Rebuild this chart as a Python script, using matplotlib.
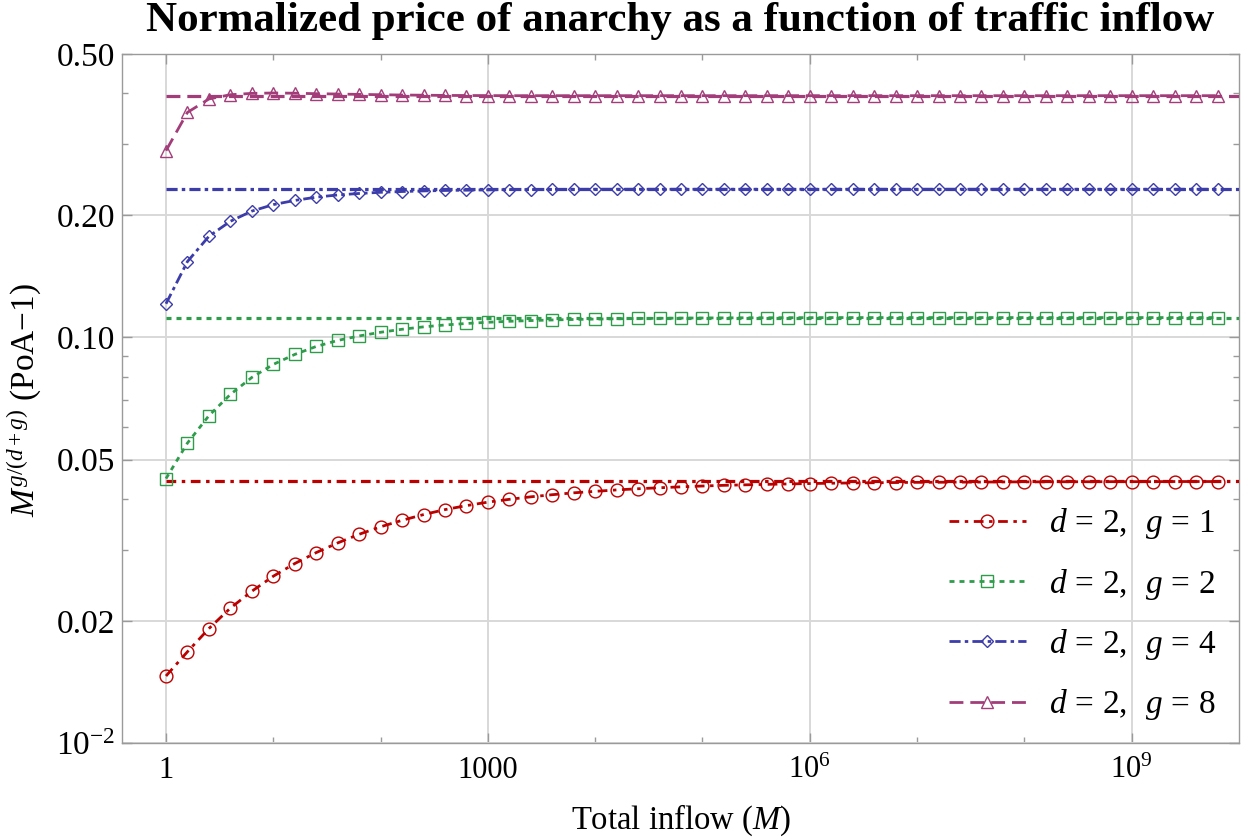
import matplotlib
matplotlib.use("Agg")
import matplotlib.pyplot as plt
from matplotlib.ticker import FixedLocator, FixedFormatter, NullFormatter

plt.rcParams.update({
    "font.family": ["Liberation Serif", "DejaVu Serif"],
    "mathtext.fontset": "custom",
    "mathtext.rm": "Liberation Serif",
    "mathtext.it": "Liberation Serif:italic",
    "mathtext.bf": "Liberation Serif:bold",
    "lines.scale_dashes": False,
    "axes.unicode_minus": True,
})

# ---------------- data ----------------
log10_inflow = [0.0, 0.2, 0.4, 0.6, 0.8, 1.0, 1.2, 1.4, 1.6, 1.8,
                2.0, 2.2, 2.4, 2.6, 2.8, 3.0, 3.2, 3.4, 3.6, 3.8,
                4.0, 4.2, 4.4, 4.6, 4.8, 5.0, 5.2, 5.4, 5.6, 5.8,
                6.0, 6.2, 6.4, 6.6, 6.8, 7.0, 7.2, 7.4, 7.6, 7.8,
                8.0, 8.2, 8.4, 8.6, 8.8, 9.0, 9.2, 9.4, 9.6, 9.8]
inflow = [10 ** e for e in log10_inflow]

g1 = [0.01463, 0.01679, 0.01915, 0.02151, 0.02367, 0.02578, 0.02770, 0.02948, 0.03114, 0.03271,
      0.03413, 0.03541, 0.03658, 0.03763, 0.03849, 0.03926, 0.03989, 0.04046, 0.04095, 0.04139,
      0.04174, 0.04208, 0.04236, 0.04260, 0.04282, 0.04302, 0.04319, 0.04331, 0.04343, 0.04353,
      0.04363, 0.04371, 0.04378, 0.04383, 0.04388, 0.04393, 0.04395, 0.04398, 0.04400, 0.04403,
      0.04405, 0.04405, 0.04408, 0.04408, 0.04410, 0.04410, 0.04410, 0.04413, 0.04413, 0.04413]
g2 = [0.04487, 0.05491, 0.06414, 0.07237, 0.07970, 0.08582, 0.09081, 0.09502, 0.09831, 0.10085,
      0.10299, 0.10476, 0.10620, 0.10735, 0.10826, 0.10900, 0.10962, 0.11006, 0.11044, 0.11075,
      0.11100, 0.11119, 0.11138, 0.11151, 0.11163, 0.11170, 0.11176, 0.11182, 0.11182, 0.11189,
      0.11189, 0.11195, 0.11195, 0.11195, 0.11195, 0.11195, 0.11195, 0.11195, 0.11195, 0.11195,
      0.11195, 0.11195, 0.11195, 0.11195, 0.11195, 0.11195, 0.11195, 0.11195, 0.11195, 0.11195]
g4 = [0.1211, 0.1539, 0.1776, 0.1934, 0.2049, 0.2126, 0.2177, 0.2218, 0.2246, 0.2265,
      0.2280, 0.2290, 0.2298, 0.2304, 0.2308, 0.2312, 0.2315, 0.2316, 0.2318, 0.2319,
      0.2320, 0.2320, 0.2320, 0.2320, 0.2320, 0.2320, 0.2320, 0.2320, 0.2320, 0.2320,
      0.2320, 0.2320, 0.2320, 0.2320, 0.2320, 0.2320, 0.2320, 0.2320, 0.2320, 0.2320,
      0.2320, 0.2320, 0.2320, 0.2320, 0.2320, 0.2320, 0.2320, 0.2320, 0.2320, 0.2320]
g8 = [0.2888, 0.3589, 0.3873, 0.3968, 0.3998, 0.4007, 0.4002, 0.3991, 0.3984, 0.3975,
      0.3968, 0.3961, 0.3957, 0.3952, 0.3950, 0.3948, 0.3946, 0.3946, 0.3946, 0.3946,
      0.3946, 0.3946, 0.3946, 0.3946, 0.3946, 0.3946, 0.3946, 0.3946, 0.3946, 0.3946,
      0.3946, 0.3946, 0.3946, 0.3946, 0.3946, 0.3946, 0.3946, 0.3946, 0.3946, 0.3946,
      0.3946, 0.3946, 0.3946, 0.3946, 0.3946, 0.3946, 0.3946, 0.3946, 0.3946, 0.3946]
series = [g1, g2, g4, g8]
limits = [0.0442, 0.1120, 0.2324, 0.3946]
labels = [r"$d\,=\,2,\;\;g\,=\,1$", r"$d\,=\,2,\;\;g\,=\,2$",
          r"$d\,=\,2,\;\;g\,=\,4$", r"$d\,=\,2,\;\;g\,=\,8$"]

xticks = [1, 1e3, 1e6, 1e9]
xticklabels = ["1", "1000", r"$10^{6}$", r"$10^{9}$"]
xminor = [10, 100, 1e4, 1e5, 1e7, 1e8]
yticks = [0.01, 0.02, 0.05, 0.1, 0.2, 0.5]
yticklabels = [r"$10^{-2}$", "0.02", "0.05", "0.10", "0.20", "0.50"]
yminor = [0.03, 0.04, 0.06, 0.07, 0.08, 0.09, 0.3, 0.4]

# ---------------- style ----------------
colors = ["#bb0000", "#2f9c4c", "#3c3caa", "#a23d7a"]
markers = ["o", "s", "D", "^"]
msizes = [9.2, 8.0, 6.0, 8.0]
dashes = [(0, (7, 4, 2.5, 4)), (0, (3.6, 3.6)), (0, (8, 3, 2.5, 3)), (0, (10, 5))]

fig = plt.figure(figsize=(12.5, 8.4), dpi=100)
ax = fig.add_axes([122 / 1250, 1 - 743 / 840, (1239 - 122) / 1250, (743 - 54) / 840])
ax.set_xscale("log")
ax.set_yscale("log")
xmin, xmax = 10 ** -0.41, 1e10
ax.set_xlim(xmin, xmax)
ax.set_ylim(0.01, 0.5)

handles = []
for vals, lim, c, m, ms, ls in zip(series, limits, colors, markers, msizes, dashes):
    ax.plot([inflow[0], xmax], [lim, lim], color=c, lw=2.3, linestyle=ls, zorder=3)
    h, = ax.plot(inflow, vals, color=c, lw=2.0, linestyle=ls, marker=m, ms=ms,
                 mfc="none", mec=c, mew=1.0, zorder=4)
    handles.append(h)

ax.xaxis.set_major_locator(FixedLocator(xticks))
ax.xaxis.set_major_formatter(FixedFormatter(xticklabels))
ax.xaxis.set_minor_locator(FixedLocator(xminor))
ax.xaxis.set_minor_formatter(NullFormatter())
ax.yaxis.set_major_locator(FixedLocator(yticks))
ax.yaxis.set_major_formatter(FixedFormatter(yticklabels))
ax.yaxis.set_minor_locator(FixedLocator(yminor))
ax.yaxis.set_minor_formatter(NullFormatter())

ax.tick_params(which="both", direction="in", top=True, right=True,
               color="#9a9a9a", labelcolor="black", width=1)
ax.tick_params(which="major", length=7)
ax.tick_params(which="minor", length=4)
ax.tick_params(axis="x", which="major", labelsize=22, pad=9)
ax.tick_params(axis="y", which="major", labelsize=24, pad=5)
ax.grid(True, which="major", color="#d8d8d8", lw=1.4)
ax.set_axisbelow(True)
for sp in ax.spines.values():
    sp.set_color("#9a9a9a")
    sp.set_linewidth(1.0)

fig.text((122 + 1239) / 2 / 1250, 1 - 21 / 840,
         "Normalized price of anarchy as a function of traffic inflow",
         ha="center", va="center", fontsize=31, fontweight="bold")
fig.text((122 + 1239) / 2 / 1250, 1 - 820 / 840, "Total inflow ($M$)",
         ha="center", va="center", fontsize=23.5)
fig.text(25 / 1250, 1 - 400 / 840, r"$M^{g/(d+g)}$ (PoA$-$1)",
         rotation=90, ha="center", va="center", fontsize=24)

ax.legend(handles, labels, loc="lower right", bbox_to_anchor=(0.98, 0.03),
          frameon=False, fontsize=24, handlelength=2.3, handletextpad=0.7,
          labelspacing=0.76, borderpad=0, borderaxespad=0, numpoints=1)

fig.savefig("out.png", dpi=100)
